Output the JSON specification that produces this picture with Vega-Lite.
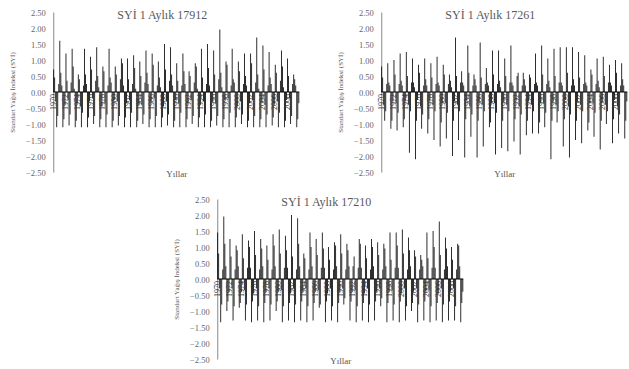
{
"$schema":"https://vega.github.io/schema/vega-lite/v6.json",
"padding":{"left":8,"top":8,"right":0,"bottom":0},
"center":true,
"spacing":17,
"config":{
 "font":"Liberation Serif",
 "view":{"stroke":null},
 "axis":{"labelFont":"Liberation Serif","titleFont":"Liberation Serif","labelColor":"#666","titleColor":"#555","titleFontWeight":"normal","grid":false,"ticks":false,"labelOverlap":false},
 "axisY":{"labelFontSize":8.5,"labelPadding":8,"titleFontSize":7,"titlePadding":10,"domainColor":"#888"},
 "axisX":{"labels":false,"domain":false,"titleFontSize":9,"titlePadding":-3},
 "title":{"font":"Liberation Serif","fontSize":12,"fontWeight":"normal","color":"#595959","dx":-14,"dy":18,"offset":0},
 "bar":{"color":"black"}
},
"datasets":{
"yrs":[{"t":0,"y":"1970"},{"t":12,"y":"1972"},{"t":24,"y":"1974"},{"t":36,"y":"1976"},{"t":48,"y":"1978"},{"t":60,"y":"1980"},{"t":72,"y":"1982"},{"t":84,"y":"1984"},{"t":96,"y":"1986"},{"t":108,"y":"1988"},{"t":120,"y":"1990"},{"t":132,"y":"1992"},{"t":144,"y":"1994"},{"t":156,"y":"1996"},{"t":168,"y":"1998"},{"t":180,"y":"2000"},{"t":192,"y":"2002"},{"t":204,"y":"2004"},{"t":216,"y":"2006"},{"t":228,"y":"2008"}],
"a":[{"t":0,"v":0.7},{"t":1,"v":0.45},{"t":2,"v":-0.3},{"t":3,"v":-1.1},{"t":4,"v":-0.75},{"t":5,"v":0.25},
{"t":6,"v":1.6},{"t":7,"v":0.6},{"t":8,"v":0.2},{"t":9,"v":-1.1},{"t":10,"v":-0.85},{"t":11,"v":-0.4},
{"t":12,"v":1.2},{"t":13,"v":0.35},{"t":14,"v":-0.25},{"t":15,"v":-1.05},{"t":16,"v":-0.7},{"t":17,"v":0.3},
{"t":18,"v":1.35},{"t":19,"v":0.8},{"t":20,"v":0.1},{"t":21,"v":-1.1},{"t":22,"v":-0.9},{"t":23,"v":-0.35},
{"t":24,"v":0.55},{"t":25,"v":0.4},{"t":26,"v":-0.45},{"t":27,"v":-1.1},{"t":28,"v":-0.65},{"t":29,"v":0.2},
{"t":30,"v":1.35},{"t":31,"v":0.55},{"t":32,"v":0.25},{"t":33,"v":-1.1},{"t":34,"v":-0.8},{"t":35,"v":-0.3},
{"t":36,"v":1.1},{"t":37,"v":0.7},{"t":38,"v":-0.2},{"t":39,"v":-1.0},{"t":40,"v":-0.75},{"t":41,"v":0.35},
{"t":42,"v":1.4},{"t":43,"v":0.5},{"t":44,"v":0.15},{"t":45,"v":-1.1},{"t":46,"v":-0.85},{"t":47,"v":-0.45},
{"t":48,"v":0.8},{"t":49,"v":0.65},{"t":50,"v":-0.35},{"t":51,"v":-1.1},{"t":52,"v":-0.7},{"t":53,"v":0.2},
{"t":54,"v":1.35},{"t":55,"v":0.45},{"t":56,"v":0.3},{"t":57,"v":-1.1},{"t":58,"v":-0.9},{"t":59,"v":-0.25},
{"t":60,"v":0.8},{"t":61,"v":0.55},{"t":62,"v":-0.3},{"t":63,"v":-1.05},{"t":64,"v":-0.75},{"t":65,"v":0.4},
{"t":66,"v":1.05},{"t":67,"v":0.9},{"t":68,"v":0.2},{"t":69,"v":-1.1},{"t":70,"v":-0.8},{"t":71,"v":-0.35},
{"t":72,"v":1.05},{"t":73,"v":0.4},{"t":74,"v":-0.25},{"t":75,"v":-1.1},{"t":76,"v":-0.65},{"t":77,"v":0.25},
{"t":78,"v":1.15},{"t":79,"v":0.75},{"t":80,"v":0.1},{"t":81,"v":-1.1},{"t":82,"v":-0.9},{"t":83,"v":-0.4},
{"t":84,"v":0.95},{"t":85,"v":0.5},{"t":86,"v":-0.4},{"t":87,"v":-1.0},{"t":88,"v":-0.7},{"t":89,"v":0.3},
{"t":90,"v":1.3},{"t":91,"v":0.6},{"t":92,"v":0.25},{"t":93,"v":-1.1},{"t":94,"v":-0.85},{"t":95,"v":-0.3},
{"t":96,"v":1.2},{"t":97,"v":0.85},{"t":98,"v":-0.2},{"t":99,"v":-1.1},{"t":100,"v":-0.75},{"t":101,"v":0.2},
{"t":102,"v":0.95},{"t":103,"v":0.45},{"t":104,"v":0.15},{"t":105,"v":-1.1},{"t":106,"v":-0.8},{"t":107,"v":-0.45},
{"t":108,"v":1.5},{"t":109,"v":0.7},{"t":110,"v":-0.3},{"t":111,"v":-1.05},{"t":112,"v":-0.7},{"t":113,"v":0.35},
{"t":114,"v":1.4},{"t":115,"v":0.55},{"t":116,"v":0.2},{"t":117,"v":-1.1},{"t":118,"v":-0.9},{"t":119,"v":-0.25},
{"t":120,"v":0.9},{"t":121,"v":0.35},{"t":122,"v":-0.35},{"t":123,"v":-1.1},{"t":124,"v":-0.65},{"t":125,"v":0.2},
{"t":126,"v":1.2},{"t":127,"v":0.65},{"t":128,"v":0.25},{"t":129,"v":-1.1},{"t":130,"v":-0.85},{"t":131,"v":-0.35},
{"t":132,"v":0.65},{"t":133,"v":0.5},{"t":134,"v":-0.25},{"t":135,"v":-1.0},{"t":136,"v":-0.75},{"t":137,"v":0.3},
{"t":138,"v":0.9},{"t":139,"v":0.8},{"t":140,"v":0.1},{"t":141,"v":-1.1},{"t":142,"v":-0.8},{"t":143,"v":-0.4},
{"t":144,"v":1.35},{"t":145,"v":0.45},{"t":146,"v":-0.3},{"t":147,"v":-1.1},{"t":148,"v":-0.7},{"t":149,"v":0.25},
{"t":150,"v":1.5},{"t":151,"v":0.75},{"t":152,"v":0.2},{"t":153,"v":-1.1},{"t":154,"v":-0.9},{"t":155,"v":-0.3},
{"t":156,"v":1.3},{"t":157,"v":0.55},{"t":158,"v":-0.35},{"t":159,"v":-1.05},{"t":160,"v":-0.75},{"t":161,"v":0.4},
{"t":162,"v":1.95},{"t":163,"v":0.6},{"t":164,"v":0.15},{"t":165,"v":-1.1},{"t":166,"v":-0.85},{"t":167,"v":-0.25},
{"t":168,"v":0.95},{"t":169,"v":0.85},{"t":170,"v":-0.2},{"t":171,"v":-1.1},{"t":172,"v":-0.65},{"t":173,"v":0.2},
{"t":174,"v":1.35},{"t":175,"v":0.4},{"t":176,"v":0.3},{"t":177,"v":-1.1},{"t":178,"v":-0.8},{"t":179,"v":-0.45},
{"t":180,"v":0.95},{"t":181,"v":0.65},{"t":182,"v":-0.3},{"t":183,"v":-1.0},{"t":184,"v":-0.7},{"t":185,"v":0.25},
{"t":186,"v":1.2},{"t":187,"v":0.5},{"t":188,"v":0.2},{"t":189,"v":-1.1},{"t":190,"v":-0.9},{"t":191,"v":-0.35},
{"t":192,"v":1.2},{"t":193,"v":0.9},{"t":194,"v":-0.25},{"t":195,"v":-1.1},{"t":196,"v":-0.75},{"t":197,"v":0.3},
{"t":198,"v":1.7},{"t":199,"v":0.55},{"t":200,"v":0.1},{"t":201,"v":-1.1},{"t":202,"v":-0.85},{"t":203,"v":-0.3},
{"t":204,"v":1.45},{"t":205,"v":0.7},{"t":206,"v":-0.4},{"t":207,"v":-1.1},{"t":208,"v":-0.7},{"t":209,"v":0.2},
{"t":210,"v":1.25},{"t":211,"v":0.45},{"t":212,"v":0.25},{"t":213,"v":-1.05},{"t":214,"v":-0.8},{"t":215,"v":-0.4},
{"t":216,"v":0.85},{"t":217,"v":0.6},{"t":218,"v":-0.3},{"t":219,"v":-1.1},{"t":220,"v":-0.65},{"t":221,"v":0.35},
{"t":222,"v":1.3},{"t":223,"v":0.8},{"t":224,"v":0.15},{"t":225,"v":-1.1},{"t":226,"v":-0.9},{"t":227,"v":-0.25},
{"t":228,"v":1.05},{"t":229,"v":0.5},{"t":230,"v":-0.2},{"t":231,"v":-1.0},{"t":232,"v":-0.75},{"t":233,"v":0.25},
{"t":234,"v":0.55},{"t":235,"v":0.4},{"t":236,"v":0.2},{"t":237,"v":-1.1},{"t":238,"v":-0.85},{"t":239,"v":-0.35}],
"b":[{"t":0,"v":0.8},{"t":1,"v":0.45},{"t":2,"v":-0.4},{"t":3,"v":-0.9},{"t":4,"v":-0.6},{"t":5,"v":0.25},
{"t":6,"v":0.9},{"t":7,"v":0.3},{"t":8,"v":0.2},{"t":9,"v":-1.15},{"t":10,"v":-0.9},{"t":11,"v":-0.3},
{"t":12,"v":1.0},{"t":13,"v":0.55},{"t":14,"v":-0.35},{"t":15,"v":-1.2},{"t":16,"v":-0.65},{"t":17,"v":0.25},
{"t":18,"v":1.2},{"t":19,"v":0.35},{"t":20,"v":0.2},{"t":21,"v":-1.1},{"t":22,"v":-0.85},{"t":23,"v":-0.3},
{"t":24,"v":1.25},{"t":25,"v":0.5},{"t":26,"v":-0.4},{"t":27,"v":-1.9},{"t":28,"v":-0.6},{"t":29,"v":0.3},
{"t":30,"v":1.05},{"t":31,"v":0.3},{"t":32,"v":0.15},{"t":33,"v":-2.1},{"t":34,"v":-0.9},{"t":35,"v":-0.25},
{"t":36,"v":0.85},{"t":37,"v":0.6},{"t":38,"v":-0.45},{"t":39,"v":-1.15},{"t":40,"v":-0.7},{"t":41,"v":0.2},
{"t":42,"v":1.05},{"t":43,"v":0.4},{"t":44,"v":0.2},{"t":45,"v":-1.3},{"t":46,"v":-0.85},{"t":47,"v":-0.3},
{"t":48,"v":0.9},{"t":49,"v":0.45},{"t":50,"v":-0.4},{"t":51,"v":-1.5},{"t":52,"v":-0.6},{"t":53,"v":0.25},
{"t":54,"v":1.1},{"t":55,"v":0.3},{"t":56,"v":0.2},{"t":57,"v":-1.7},{"t":58,"v":-0.95},{"t":59,"v":-0.35},
{"t":60,"v":0.85},{"t":61,"v":0.55},{"t":62,"v":-0.35},{"t":63,"v":-1.45},{"t":64,"v":-0.65},{"t":65,"v":0.25},
{"t":66,"v":0.55},{"t":67,"v":0.35},{"t":68,"v":0.15},{"t":69,"v":-2.0},{"t":70,"v":-0.9},{"t":71,"v":-0.3},
{"t":72,"v":1.7},{"t":73,"v":0.5},{"t":74,"v":-0.4},{"t":75,"v":-1.5},{"t":76,"v":-0.6},{"t":77,"v":0.3},
{"t":78,"v":0.65},{"t":79,"v":0.3},{"t":80,"v":0.2},{"t":81,"v":-2.05},{"t":82,"v":-0.85},{"t":83,"v":-0.25},
{"t":84,"v":1.45},{"t":85,"v":0.6},{"t":86,"v":-0.45},{"t":87,"v":-1.4},{"t":88,"v":-0.7},{"t":89,"v":0.2},
{"t":90,"v":0.55},{"t":91,"v":0.4},{"t":92,"v":0.2},{"t":93,"v":-2.05},{"t":94,"v":-0.9},{"t":95,"v":-0.3},
{"t":96,"v":1.55},{"t":97,"v":0.45},{"t":98,"v":-0.4},{"t":99,"v":-1.7},{"t":100,"v":-0.6},{"t":101,"v":0.25},
{"t":102,"v":0.75},{"t":103,"v":0.3},{"t":104,"v":0.2},{"t":105,"v":-1.1},{"t":106,"v":-0.95},{"t":107,"v":-0.35},
{"t":108,"v":1.3},{"t":109,"v":0.55},{"t":110,"v":-0.35},{"t":111,"v":-1.95},{"t":112,"v":-0.65},{"t":113,"v":0.25},
{"t":114,"v":1.3},{"t":115,"v":0.35},{"t":116,"v":0.15},{"t":117,"v":-1.75},{"t":118,"v":-0.9},{"t":119,"v":-0.3},
{"t":120,"v":1.05},{"t":121,"v":0.5},{"t":122,"v":-0.4},{"t":123,"v":-1.85},{"t":124,"v":-0.6},{"t":125,"v":0.3},
{"t":126,"v":1.45},{"t":127,"v":0.3},{"t":128,"v":0.2},{"t":129,"v":-1.55},{"t":130,"v":-0.85},{"t":131,"v":-0.25},
{"t":132,"v":0.5},{"t":133,"v":0.6},{"t":134,"v":-0.45},{"t":135,"v":-1.95},{"t":136,"v":-0.7},{"t":137,"v":0.2},
{"t":138,"v":0.6},{"t":139,"v":0.4},{"t":140,"v":0.2},{"t":141,"v":-1.35},{"t":142,"v":-0.9},{"t":143,"v":-0.3},
{"t":144,"v":0.55},{"t":145,"v":0.45},{"t":146,"v":-0.4},{"t":147,"v":-1.3},{"t":148,"v":-0.6},{"t":149,"v":0.25},
{"t":150,"v":1.2},{"t":151,"v":0.3},{"t":152,"v":0.2},{"t":153,"v":-1.3},{"t":154,"v":-0.95},{"t":155,"v":-0.35},
{"t":156,"v":1.45},{"t":157,"v":0.55},{"t":158,"v":-0.35},{"t":159,"v":-1.1},{"t":160,"v":-0.65},{"t":161,"v":0.25},
{"t":162,"v":1.05},{"t":163,"v":0.35},{"t":164,"v":0.15},{"t":165,"v":-2.1},{"t":166,"v":-0.9},{"t":167,"v":-0.3},
{"t":168,"v":1.35},{"t":169,"v":0.5},{"t":170,"v":-0.4},{"t":171,"v":-0.95},{"t":172,"v":-0.6},{"t":173,"v":0.3},
{"t":174,"v":1.4},{"t":175,"v":0.3},{"t":176,"v":0.2},{"t":177,"v":-1.7},{"t":178,"v":-0.85},{"t":179,"v":-0.25},
{"t":180,"v":1.4},{"t":181,"v":0.6},{"t":182,"v":-0.45},{"t":183,"v":-2.05},{"t":184,"v":-0.7},{"t":185,"v":0.2},
{"t":186,"v":1.4},{"t":187,"v":0.4},{"t":188,"v":0.2},{"t":189,"v":-1.5},{"t":190,"v":-0.9},{"t":191,"v":-0.3},
{"t":192,"v":1.25},{"t":193,"v":0.45},{"t":194,"v":-0.4},{"t":195,"v":-1.6},{"t":196,"v":-0.6},{"t":197,"v":0.25},
{"t":198,"v":1.15},{"t":199,"v":0.3},{"t":200,"v":0.2},{"t":201,"v":-1.2},{"t":202,"v":-0.95},{"t":203,"v":-0.35},
{"t":204,"v":0.7},{"t":205,"v":0.55},{"t":206,"v":-0.35},{"t":207,"v":-1.4},{"t":208,"v":-0.65},{"t":209,"v":0.25},
{"t":210,"v":1.05},{"t":211,"v":0.35},{"t":212,"v":0.15},{"t":213,"v":-1.8},{"t":214,"v":-0.9},{"t":215,"v":-0.3},
{"t":216,"v":1.1},{"t":217,"v":0.5},{"t":218,"v":-0.4},{"t":219,"v":-1.0},{"t":220,"v":-0.6},{"t":221,"v":0.3},
{"t":222,"v":0.85},{"t":223,"v":0.3},{"t":224,"v":0.2},{"t":225,"v":-1.6},{"t":226,"v":-0.85},{"t":227,"v":-0.25},
{"t":228,"v":1.0},{"t":229,"v":0.6},{"t":230,"v":-0.45},{"t":231,"v":-1.3},{"t":232,"v":-0.7},{"t":233,"v":0.2},
{"t":234,"v":0.9},{"t":235,"v":0.4},{"t":236,"v":0.2},{"t":237,"v":-1.45},{"t":238,"v":-0.9},{"t":239,"v":-0.3}],
"c":[{"t":0,"v":1.45},{"t":1,"v":0.8},{"t":2,"v":-0.3},{"t":3,"v":-1.35},{"t":4,"v":-0.8},{"t":5,"v":0.3},
{"t":6,"v":1.95},{"t":7,"v":1.1},{"t":8,"v":0.4},{"t":9,"v":-1.0},{"t":10,"v":-0.7},{"t":11,"v":-0.4},
{"t":12,"v":1.25},{"t":13,"v":0.7},{"t":14,"v":-0.3},{"t":15,"v":-1.3},{"t":16,"v":-0.85},{"t":17,"v":0.3},
{"t":18,"v":1.05},{"t":19,"v":0.9},{"t":20,"v":0.4},{"t":21,"v":-0.9},{"t":22,"v":-0.75},{"t":23,"v":-0.4},
{"t":24,"v":1.4},{"t":25,"v":0.65},{"t":26,"v":-0.35},{"t":27,"v":-1.3},{"t":28,"v":-0.8},{"t":29,"v":0.35},
{"t":30,"v":1.2},{"t":31,"v":1.0},{"t":32,"v":0.35},{"t":33,"v":-1.35},{"t":34,"v":-0.7},{"t":35,"v":-0.45},
{"t":36,"v":1.5},{"t":37,"v":0.75},{"t":38,"v":-0.3},{"t":39,"v":-1.3},{"t":40,"v":-0.85},{"t":41,"v":0.3},
{"t":42,"v":1.25},{"t":43,"v":0.95},{"t":44,"v":0.4},{"t":45,"v":-1.35},{"t":46,"v":-0.75},{"t":47,"v":-0.4},
{"t":48,"v":1.05},{"t":49,"v":0.6},{"t":50,"v":-0.3},{"t":51,"v":-1.3},{"t":52,"v":-0.8},{"t":53,"v":0.3},
{"t":54,"v":1.4},{"t":55,"v":1.05},{"t":56,"v":0.4},{"t":57,"v":-1.0},{"t":58,"v":-0.7},{"t":59,"v":-0.4},
{"t":60,"v":1.55},{"t":61,"v":0.8},{"t":62,"v":-0.35},{"t":63,"v":-1.35},{"t":64,"v":-0.85},{"t":65,"v":0.35},
{"t":66,"v":1.35},{"t":67,"v":0.9},{"t":68,"v":0.35},{"t":69,"v":-1.3},{"t":70,"v":-0.75},{"t":71,"v":-0.45},
{"t":72,"v":2.0},{"t":73,"v":0.7},{"t":74,"v":-0.3},{"t":75,"v":-1.35},{"t":76,"v":-0.8},{"t":77,"v":0.3},
{"t":78,"v":1.9},{"t":79,"v":1.1},{"t":80,"v":0.4},{"t":81,"v":-1.3},{"t":82,"v":-0.7},{"t":83,"v":-0.4},
{"t":84,"v":0.8},{"t":85,"v":0.65},{"t":86,"v":-0.3},{"t":87,"v":-1.35},{"t":88,"v":-0.85},{"t":89,"v":0.3},
{"t":90,"v":1.45},{"t":91,"v":1.0},{"t":92,"v":0.4},{"t":93,"v":-1.3},{"t":94,"v":-0.75},{"t":95,"v":-0.4},
{"t":96,"v":1.25},{"t":97,"v":0.75},{"t":98,"v":-0.35},{"t":99,"v":-0.9},{"t":100,"v":-0.8},{"t":101,"v":0.35},
{"t":102,"v":1.45},{"t":103,"v":0.95},{"t":104,"v":0.35},{"t":105,"v":-1.35},{"t":106,"v":-0.7},{"t":107,"v":-0.45},
{"t":108,"v":1.0},{"t":109,"v":0.6},{"t":110,"v":-0.3},{"t":111,"v":-1.3},{"t":112,"v":-0.85},{"t":113,"v":0.3},
{"t":114,"v":1.15},{"t":115,"v":1.05},{"t":116,"v":0.4},{"t":117,"v":-1.35},{"t":118,"v":-0.75},{"t":119,"v":-0.4},
{"t":120,"v":1.4},{"t":121,"v":0.8},{"t":122,"v":-0.3},{"t":123,"v":-0.8},{"t":124,"v":-0.6},{"t":125,"v":0.3},
{"t":126,"v":1.1},{"t":127,"v":0.9},{"t":128,"v":0.4},{"t":129,"v":-1.3},{"t":130,"v":-0.7},{"t":131,"v":-0.4},
{"t":132,"v":0.4},{"t":133,"v":0.7},{"t":134,"v":-0.35},{"t":135,"v":-1.35},{"t":136,"v":-0.85},{"t":137,"v":0.35},
{"t":138,"v":1.25},{"t":139,"v":1.1},{"t":140,"v":0.35},{"t":141,"v":-1.3},{"t":142,"v":-0.75},{"t":143,"v":-0.45},
{"t":144,"v":1.05},{"t":145,"v":0.65},{"t":146,"v":-0.3},{"t":147,"v":-1.35},{"t":148,"v":-0.8},{"t":149,"v":0.3},
{"t":150,"v":1.25},{"t":151,"v":1.0},{"t":152,"v":0.4},{"t":153,"v":-1.3},{"t":154,"v":-0.7},{"t":155,"v":-0.4},
{"t":156,"v":1.15},{"t":157,"v":0.75},{"t":158,"v":-0.3},{"t":159,"v":-0.85},{"t":160,"v":-0.6},{"t":161,"v":0.3},
{"t":162,"v":1.1},{"t":163,"v":0.95},{"t":164,"v":0.4},{"t":165,"v":-1.35},{"t":166,"v":-0.75},{"t":167,"v":-0.4},
{"t":168,"v":1.45},{"t":169,"v":0.6},{"t":170,"v":-0.35},{"t":171,"v":-1.3},{"t":172,"v":-0.8},{"t":173,"v":0.35},
{"t":174,"v":1.45},{"t":175,"v":1.05},{"t":176,"v":0.35},{"t":177,"v":-1.35},{"t":178,"v":-0.7},{"t":179,"v":-0.45},
{"t":180,"v":1.55},{"t":181,"v":0.8},{"t":182,"v":-0.3},{"t":183,"v":-1.3},{"t":184,"v":-0.85},{"t":185,"v":0.3},
{"t":186,"v":1.3},{"t":187,"v":0.9},{"t":188,"v":0.4},{"t":189,"v":-1.0},{"t":190,"v":-0.75},{"t":191,"v":-0.4},
{"t":192,"v":0.9},{"t":193,"v":0.7},{"t":194,"v":-0.3},{"t":195,"v":-1.35},{"t":196,"v":-0.8},{"t":197,"v":0.3},
{"t":198,"v":0.75},{"t":199,"v":0.6},{"t":200,"v":0.4},{"t":201,"v":-1.3},{"t":202,"v":-0.7},{"t":203,"v":-0.4},
{"t":204,"v":1.45},{"t":205,"v":0.65},{"t":206,"v":-0.35},{"t":207,"v":-1.35},{"t":208,"v":-0.85},{"t":209,"v":0.35},
{"t":210,"v":1.5},{"t":211,"v":1.0},{"t":212,"v":0.35},{"t":213,"v":-1.3},{"t":214,"v":-0.75},{"t":215,"v":-0.45},
{"t":216,"v":1.8},{"t":217,"v":0.75},{"t":218,"v":-0.3},{"t":219,"v":-1.35},{"t":220,"v":-0.8},{"t":221,"v":0.3},
{"t":222,"v":1.3},{"t":223,"v":0.95},{"t":224,"v":0.4},{"t":225,"v":-1.3},{"t":226,"v":-0.7},{"t":227,"v":-0.4},
{"t":228,"v":1.0},{"t":229,"v":0.6},{"t":230,"v":-0.3},{"t":231,"v":-1.3},{"t":232,"v":-0.85},{"t":233,"v":0.3},
{"t":234,"v":1.1},{"t":235,"v":1.05},{"t":236,"v":0.4},{"t":237,"v":-1.35},{"t":238,"v":-0.75},{"t":239,"v":-0.4}]
},
"vconcat":[
 {"hconcat":[
  {"width":246,"height":160,"title":"SYİ 1 Aylık 17912",
   "layer":[
    {"data":{"name":"a"},"mark":"bar","encoding":{"x":{"field":"t","type":"ordinal","scale":{"paddingInner":0.2,"paddingOuter":0},"axis":{"title":"Yıllar"}},"y":{"field":"v","type":"quantitative","scale":{"domain":[-2.5,2.5]},"axis":{"values":[-2.5,-2,-1.5,-1,-0.5,0,0.5,1,1.5,2,2.5],"tickCount":11,"format":".2f","title":"Standart Yağış İndeksi (SYİ)"}}}},
    {"data":{"values":[{}]},"mark":{"type":"rule","color":"black"},"encoding":{"y":{"datum":0}}},
    {"data":{"name":"yrs"},"mark":{"type":"text","angle":270,"align":"right","baseline":"middle","fontSize":8,"dx":-2,"color":"#333"},"encoding":{"x":{"field":"t","type":"ordinal"},"y":{"datum":0},"text":{"field":"y"}}}
   ]},
  {"width":246,"height":160,"title":"SYİ 1 Aylık 17261",
   "layer":[
    {"data":{"name":"b"},"mark":"bar","encoding":{"x":{"field":"t","type":"ordinal","scale":{"paddingInner":0.2,"paddingOuter":0},"axis":{"title":"Yıllar"}},"y":{"field":"v","type":"quantitative","scale":{"domain":[-2.5,2.5]},"axis":{"values":[-2.5,-2,-1.5,-1,-0.5,0,0.5,1,1.5,2,2.5],"tickCount":11,"format":".2f","title":"Standart Yağış İndeksi (SYİ)"}}}},
    {"data":{"values":[{}]},"mark":{"type":"rule","color":"black"},"encoding":{"y":{"datum":0}}},
    {"data":{"name":"yrs"},"mark":{"type":"text","angle":270,"align":"right","baseline":"middle","fontSize":8,"dx":-2,"color":"#333"},"encoding":{"x":{"field":"t","type":"ordinal"},"y":{"datum":0},"text":{"field":"y"}}}
   ]}
 ],"spacing":36},
 {"width":246,"height":160,"title":"SYİ 1 Aylık 17210",
   "layer":[
    {"data":{"name":"c"},"mark":"bar","encoding":{"x":{"field":"t","type":"ordinal","scale":{"paddingInner":0.2,"paddingOuter":0},"axis":{"title":"Yıllar"}},"y":{"field":"v","type":"quantitative","scale":{"domain":[-2.5,2.5]},"axis":{"values":[-2.5,-2,-1.5,-1,-0.5,0,0.5,1,1.5,2,2.5],"tickCount":11,"format":".2f","title":"Standart Yağış İndeksi (SYİ)"}}}},
    {"data":{"values":[{}]},"mark":{"type":"rule","color":"black"},"encoding":{"y":{"datum":0}}},
    {"data":{"name":"yrs"},"mark":{"type":"text","angle":270,"align":"right","baseline":"middle","fontSize":8,"dx":-2,"color":"#333"},"encoding":{"x":{"field":"t","type":"ordinal"},"y":{"datum":0},"text":{"field":"y"}}}
   ]}
]
}
